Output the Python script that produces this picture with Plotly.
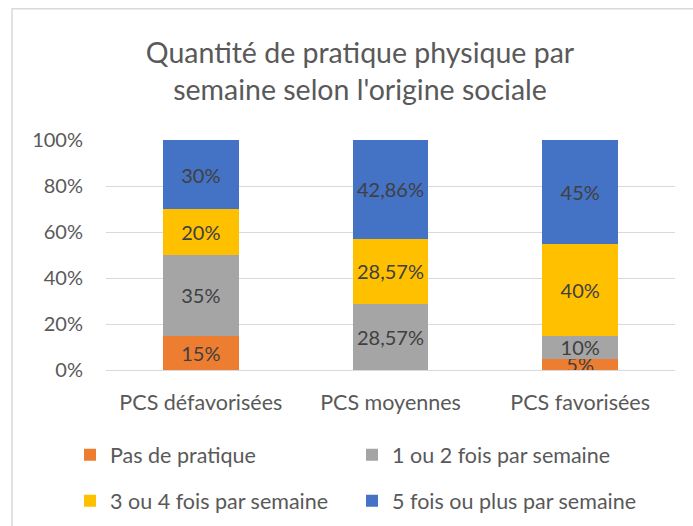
import plotly.graph_objects as go

categories = ["PCS défavorisées", "PCS moyennes", "PCS favorisées"]
series_names = ["Pas de pratique", "1 ou 2 fois par semaine",
                "3 ou 4 fois par semaine", "5 fois ou plus par semaine"]
pas_de_pratique = [15, 0, 5]
une_deux_fois = [35, 28.57, 10]
trois_quatre_fois = [20, 28.57, 40]
cinq_fois_plus = [30, 42.86, 45]
y_ticks = [0, 20, 40, 60, 80, 100]
y_tick_labels = ["0%", "20%", "40%", "60%", "80%", "100%"]

colors = ["#ED7D31", "#A5A5A5", "#FFC000", "#4472C4"]
values = [pas_de_pratique, une_deux_fois, trois_quatre_fois, cinq_fois_plus]
legend_ids = ["legend", "legend2", "legend3", "legend4"]

FONT = "Lato"
TXT = "#595959"

# plot area in pixels
W, H = 693, 526
L, R, T, B = 106, 18, 139.5, 156
pw = W - L - R
ph = H - T - B


def px_x(px):
    return (px - L) / pw


def px_y(py):
    return (H - B - py) / ph


def fmt(v):
    if v == 0:
        return ""
    return f"{v:g}".replace(".", ",") + "%"


fig = go.Figure()
for name, vals, col, lg in zip(series_names, values, colors, legend_ids):
    fig.add_trace(go.Bar(
        x=categories, y=vals, name=name, marker_color=col,
        marker_line_width=0, showlegend=True,
        text=[fmt(v) for v in vals], textposition="inside",
        insidetextanchor="middle", constraintext="none",
        textfont=dict(family=FONT, size=20, color="#404040"),
        legend=lg, hoverinfo="skip",
    ))

legend_common = dict(
    orientation="h", xanchor="left", yanchor="middle",
    font=dict(family=FONT, size=21.5, color=TXT),
    bgcolor="rgba(0,0,0,0)",
)
# legend grid: (left px, centre y px) for each entry
legend_pos = [(70, 455), (352, 455), (70, 501), (352, 501)]

fig.update_layout(
    width=W, height=H, showlegend=True,
    barmode="stack", bargap=0.6,
    paper_bgcolor="white", plot_bgcolor="white",
    margin=dict(l=L, r=R, t=T, b=B, autoexpand=False),
    font=dict(family=FONT, color=TXT, size=19),
    title=dict(
        text="Quantité de pratique physique par<br>semaine selon l'origine sociale",
        x=360 / W, xanchor="center", xref="container",
        y=1 - 63 / H, yanchor="top", yref="container",
        font=dict(family=FONT, size=28.5, color=TXT),
    ),
    xaxis=dict(showgrid=False, showline=False, ticks="",
               ticklabelstandoff=17,
               tickfont=dict(family=FONT, size=21.5, color=TXT)),
    yaxis=dict(range=[0, 100], tickvals=y_ticks, ticktext=y_tick_labels,
               showgrid=True, gridcolor="#D9D9D9", gridwidth=1,
               zeroline=True, zerolinecolor="#D9D9D9", zerolinewidth=1,
               showline=False, ticks="", ticklabelstandoff=22,
               tickfont=dict(family=FONT, size=20, color=TXT)),
    shapes=[dict(type="rect", xref="paper", yref="paper",
                 x0=px_x(12), x1=px_x(710), y0=px_y(540), y1=px_y(8),
                 line=dict(color="#D9D9D9", width=1.5),
                 fillcolor="rgba(0,0,0,0)", layer="below")],
)
for lg, (lx, ly) in zip(legend_ids, legend_pos):
    fig.update_layout({lg: dict(x=px_x(lx), y=px_y(ly), **legend_common)})

fig.write_html("out.html", config={"displayModeBar": False},
               post_script="document.body.style.margin='0';")
